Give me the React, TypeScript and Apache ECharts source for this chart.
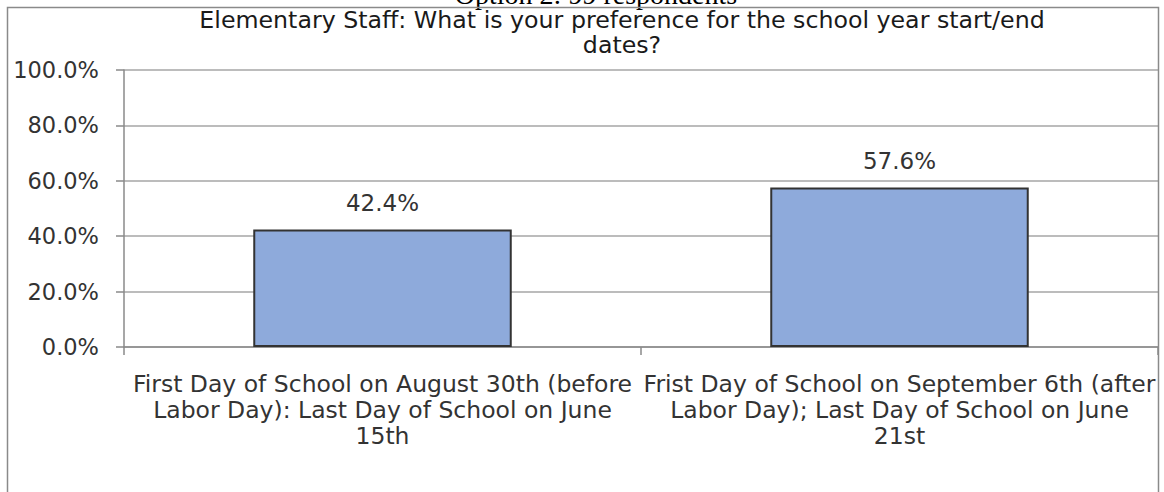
import React, { useEffect, useRef } from "react";
import * as echarts from "echarts";

const categories = [
  "First Day of School on August 30th (before\nLabor Day): Last Day of School on June\n15th",
  "Frist Day of School on September 6th (after\nLabor Day); Last Day of School on June\n21st",
];
const values = [0.424, 0.576];
const yTicks = [0, 0.2, 0.4, 0.6, 0.8, 1.0];
const chartTitle = "Elementary Staff: What is your preference for the school year start/end\ndates?";
const headerText = "Option 2: 99 respondents";

const FONT = "'DejaVu Sans', 'Liberation Sans', Arial, sans-serif";

export default function App() {
  const ref = useRef<HTMLDivElement>(null);
  useEffect(() => {
    if (!ref.current) return;
    const chart = echarts.init(ref.current, undefined, { renderer: "svg" });
    chart.setOption({
      animation: false,
      backgroundColor: "#ffffff",
      title: {
        text: chartTitle,
        left: 622,
        top: 7,
        padding: 0,
        textAlign: "center",
        textStyle: {
          fontFamily: FONT,
          fontSize: 23.7,
          lineHeight: 25,
          fontWeight: "normal",
          color: "#1a1a1a",
        },
      },
      graphic: [
        {
          type: "text",
          x: 596,
          y: -6,
          z: 1,
          style: {
            text: headerText,
            fontFamily: "'Liberation Serif', 'Times New Roman', serif",
            fontSize: 28,
            fill: "#000",
            textAlign: "center",
            textVerticalAlign: "middle",
          },
        },
        {
          type: "rect",
          z: 10,
          shape: { x: 7.5, y: 7.5, width: 1151, height: 520 },
          style: { fill: "none", stroke: "#8a8a8a", lineWidth: 1.5 },
        },
      ],
      grid: { left: 124, right: 6, top: 70, bottom: 145, containLabel: false },
      xAxis: {
        type: "category",
        data: categories,
        boundaryGap: true,
        axisLine: { show: true, lineStyle: { color: "#8a8a8a", width: 1.5 } },
        axisTick: { show: true, length: 8, lineStyle: { color: "#8a8a8a", width: 1.5 } },
        axisLabel: {
          interval: 0,
          margin: 24,
          fontFamily: FONT,
          fontSize: 23.5,
          lineHeight: 26,
          color: "#333",
          align: "center",
        },
      },
      yAxis: {
        type: "value",
        min: 0,
        max: 1,
        interval: 0.2,
        axisLine: { show: true, lineStyle: { color: "#8a8a8a", width: 1.5 } },
        axisTick: { show: true, length: 8, lineStyle: { color: "#8a8a8a", width: 1.5 } },
        splitLine: { show: true, lineStyle: { color: "#a6a6a6", width: 1.5 } },
        axisLabel: {
          margin: 25,
          fontFamily: FONT,
          fontSize: 22.5,
          color: "#333",
          customValues: yTicks,
          formatter: (v: number) => (v * 100).toFixed(1) + "%",
        },
      },
      series: [
        {
          type: "bar",
          data: values,
          barWidth: "50%",
          itemStyle: { color: "#8eaadb", borderColor: "#333", borderWidth: 2 },
          label: {
            show: true,
            position: "top",
            distance: 15,
            fontFamily: FONT,
            fontSize: 23,
            color: "#333",
            formatter: (p: any) => (p.value * 100).toFixed(1) + "%",
          },
        },
      ],
    });
    return () => chart.dispose();
  }, []);
  return (
    <div
      ref={ref}
      style={{ position: "absolute", left: 0, top: 0, width: 1164, height: 492 }}
    />
  );
}
